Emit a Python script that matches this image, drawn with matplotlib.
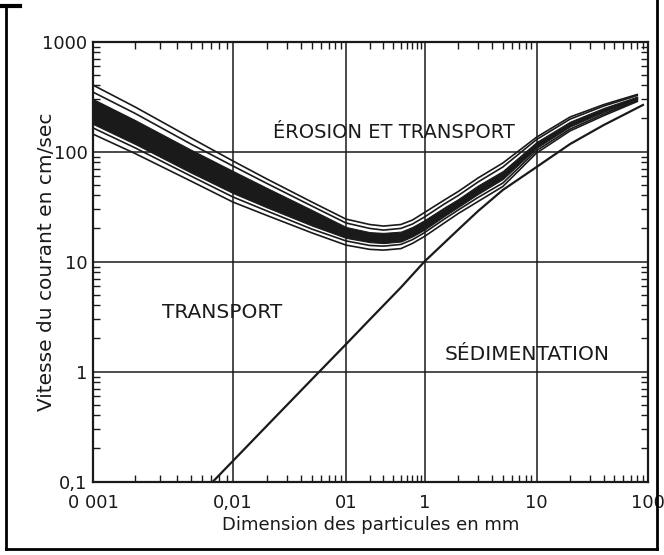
import numpy as np
import matplotlib.pyplot as plt
from matplotlib.ticker import FixedLocator, FixedFormatter, LogLocator, NullFormatter
from matplotlib.lines import Line2D

# grain size (mm) used for the erosion band
grain_mm = [0.001, 0.002, 0.005, 0.01, 0.02, 0.05, 0.1, 0.2, 0.3, 0.5, 0.7,
            1, 1.5, 2, 3, 5, 10, 20, 40, 80]

# erosion band: thin lines above, black core, thin lines below (cm/s)
upper_outer = [402, 254, 133, 82.0, 56.2, 34.7, 24.3, 21.7, 21.0, 21.7, 23.8,
               27.9, 36.2, 43.3, 57.4, 78.6, 135, 206, 267, 330]
upper_inner = [347, 222, 117, 73.8, 51.2, 31.9, 22.4, 20.0, 19.3, 20.0, 21.9,
               25.4, 33.3, 39.8, 52.8, 72.3, 128.5, 197, 259, 323]
band_top = [300, 193, 104, 66.5, 46.6, 29.4, 20.6, 18.5, 18.2, 18.7, 20.6,
            23.8, 31.0, 37.0, 49.1, 66.5, 122, 187, 249, 316]
band_bottom = [178, 117, 64.4, 41.9, 31.0, 21.2, 16.4, 15.0, 14.7, 15.2, 16.9,
               19.5, 25.9, 31.3, 41.1, 56.2, 108, 169, 229, 297]
lower_inner = [164, 108, 59.9, 38.6, 28.8, 19.7, 15.4, 14.0, 13.8, 14.3, 15.8,
               18.3, 24.3, 29.4, 38.2, 51.7, 102, 160, 219, 291]
lower_outer = [144, 95.9, 53.9, 34.7, 26.2, 18.2, 14.1, 12.9, 12.7, 13.1, 14.6,
               16.9, 22.4, 27.3, 35.1, 48.1, 96.9, 154, 212, 285]

# sedimentation curve
sed_mm = [0.0072, 0.01, 0.02, 0.05, 0.1, 0.2, 0.5, 1, 2, 3, 5, 10, 20, 40, 90]
sed_v = [0.1, 0.154, 0.322, 0.851, 1.77, 2.96, 5.81, 10, 19.5, 28.7, 44.7,
         72.3, 117, 174, 265]

# tick labels as printed
x_ticks = [0.001, 0.01, 0.1, 1, 10, 100]
x_labels = ['0 001', '0,01', '01', '1', '10', '100']
y_ticks = [0.1, 1, 10, 100, 1000]
y_labels = ['0,1', '1', '10', '100', '1000']

# the printed x axis has uneven decades, so map log10(d) piecewise
dec_log = [-3, -2, -1, 0, 1, 2]
dec_pos = [0.0, 140.0, 253.0, 331.5, 443.5, 555.0]


def fwd(x):
    x = np.clip(np.asarray(x, dtype=float), 1e-12, None)
    return np.interp(np.log10(x), dec_log, dec_pos)


def inv(p):
    return 10 ** np.interp(p, dec_pos, dec_log)


fig = plt.figure(figsize=(6.64, 5.55), dpi=100)
ax = fig.add_axes([0.140, 0.1324, 0.836, 0.7928])
ax.set_xscale('function', functions=(fwd, inv))
ax.set_yscale('log')
ax.set_xlim(0.001, 100)
ax.set_ylim(0.1, 1000)

ink = '#1a1a1a'
ax.fill_between(grain_mm, band_bottom, band_top, color=ink, lw=0.8, zorder=3)
for s in (upper_outer, upper_inner, lower_inner, lower_outer):
    ax.plot(grain_mm, s, color=ink, lw=1.2, zorder=3)
ax.plot(sed_mm, sed_v, color=ink, lw=1.6, zorder=3)

ax.grid(True, which='major', color=ink, lw=1.1)
ax.set_axisbelow(True)
for sp in ax.spines.values():
    sp.set_linewidth(1.6)
    sp.set_color(ink)

ax.xaxis.set_major_locator(FixedLocator(x_ticks))
ax.xaxis.set_major_formatter(FixedFormatter(x_labels))
ax.yaxis.set_major_locator(FixedLocator(y_ticks))
ax.yaxis.set_major_formatter(FixedFormatter(y_labels))
ax.xaxis.set_minor_locator(LogLocator(base=10, subs=np.arange(2, 10)))
ax.yaxis.set_minor_locator(LogLocator(base=10, subs=np.arange(2, 10)))
ax.xaxis.set_minor_formatter(NullFormatter())
ax.yaxis.set_minor_formatter(NullFormatter())
ax.tick_params(which='major', length=0, labelsize=13, colors=ink)
ax.tick_params(axis='x', which='major', pad=9)
ax.tick_params(axis='y', which='major', pad=4)
ax.tick_params(which='minor', direction='in', length=5, width=1,
               top=True, right=True, color=ink)

ax.set_xlabel('Dimension des particules en mm', fontsize=13, color=ink)
ax.xaxis.set_label_coords(0.5, -0.078)
ax.set_ylabel('Vitesse du courant en cm/sec', fontsize=14.5, color=ink)
ax.yaxis.set_label_coords(-0.067, 0.5)

ax.text(0.543, 0.794, 'ÉROSION ET TRANSPORT', transform=ax.transAxes,
        ha='center', va='center', fontsize=14, color=ink)
ax.text(0.232, 0.383, 'TRANSPORT', transform=ax.transAxes,
        ha='center', va='center', fontsize=14.5, color=ink)
ax.text(0.783, 0.288, 'SÉDIMENTATION', transform=ax.transAxes,
        ha='center', va='center', fontsize=14.5, color=ink)

# scanned page frame
W, H = 664.0, 555.0
for xs, ys, lw in [([6, 6], [8, 549], 2), ([6, 657], [549, 549], 2),
                   ([657, 657], [0, 549], 2), ([0, 20], [6, 6], 3)]:
    fig.add_artist(Line2D([x / W for x in xs], [1 - y / H for y in ys],
                          transform=fig.transFigure, color='black', lw=lw))

fig.savefig('out.png', dpi=100)
